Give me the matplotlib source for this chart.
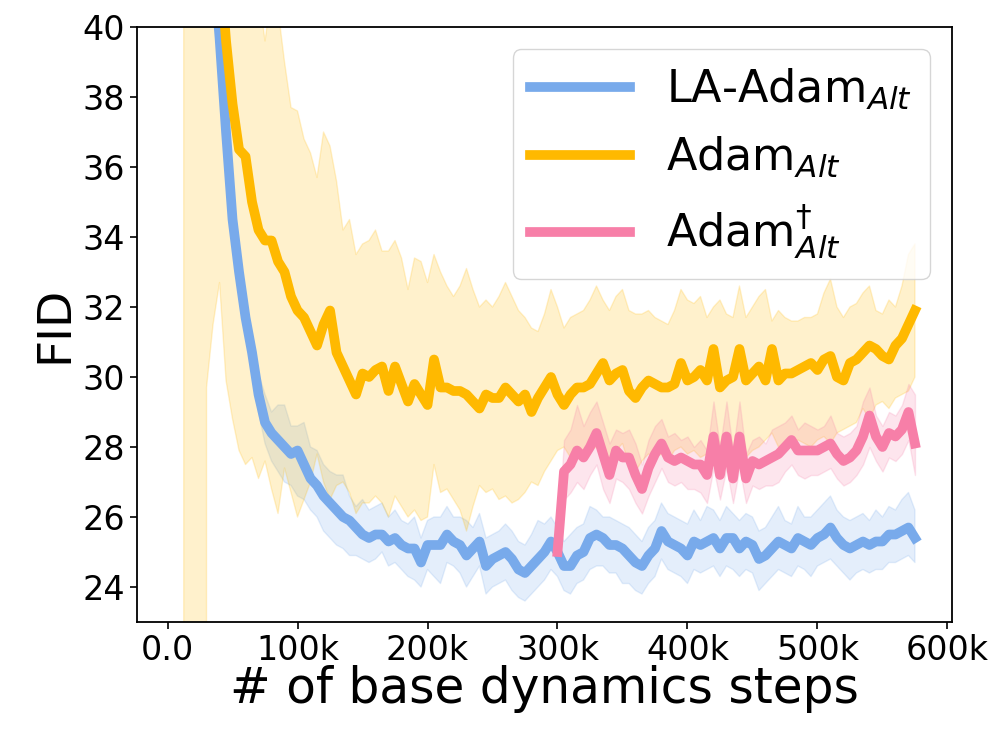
import numpy as np
import matplotlib
matplotlib.use("Agg")
import matplotlib.pyplot as plt
from matplotlib.ticker import FuncFormatter

# --- Pasos de evaluación (en miles)
steps_k = np.arange(5, 580, 5)
steps_pink_k = np.arange(300, 580, 5)

# --- LA-Adam_Alt (media, banda)
la_mean = [150, 110, 85, 65, 53, 45, 42, 39.7, 37.0, 34.5,
           33.0, 31.7, 30.7, 29.5, 28.7, 28.4, 28.2, 28.0, 27.8, 27.9,
           27.5, 27.1, 26.9, 26.6, 26.4, 26.2, 26.0, 25.9, 25.7, 25.5,
           25.4, 25.5, 25.5, 25.3, 25.4, 25.2, 25.1, 25.1, 24.7, 25.2,
           25.2, 25.2, 25.5, 25.3, 25.2, 24.9, 25.1, 25.3, 24.6, 24.8,
           24.9, 25.0, 24.8, 24.5, 24.4, 24.6, 24.8, 25.0, 25.3, 25.0,
           24.6, 24.6, 24.9, 25.0, 25.4, 25.5, 25.4, 25.2, 25.2, 25.1,
           24.9, 24.7, 24.6, 24.9, 25.1, 25.6, 25.3, 25.2, 25.1, 24.9,
           25.3, 25.2, 25.3, 25.4, 25.1, 25.4, 25.4, 25.1, 25.3, 25.2,
           24.8, 24.9, 25.1, 25.3, 25.2, 25.1, 25.4, 25.3, 25.2, 25.4,
           25.5, 25.7, 25.4, 25.2, 25.1, 25.2, 25.3, 25.2, 25.3, 25.3,
           25.5, 25.5, 25.6, 25.7, 25.4]
la_hi = [152, 112, 87, 66, 54, 46, 42.5, 40.0, 37.3, 34.8,
         33.3, 32.0, 31.1, 30.1, 29.5, 29.0, 29.2, 29.2, 28.6, 28.6,
         28.7, 28.0, 27.9, 27.5, 27.3, 27.2, 27.2, 26.6, 26.3, 26.5,
         26.2, 26.3, 26.4, 26.0, 26.2, 25.9, 25.8, 26.0, 25.4, 25.9,
         26.0, 26.0, 26.3, 26.0, 26.0, 25.9, 25.7, 26.1, 25.4, 25.5,
         25.6, 25.8, 25.6, 25.3, 25.2, 25.5, 25.9, 25.8, 26.0, 25.7,
         25.3, 25.5, 25.7, 25.8, 26.3, 26.2, 26.0, 26.0, 25.9, 25.8,
         25.7, 25.5, 25.3, 25.7, 25.9, 26.4, 26.1, 26.0, 25.9, 25.8,
         26.2, 25.9, 26.3, 26.2, 25.9, 26.3, 26.1, 25.9, 26.1, 26.0,
         25.6, 25.7, 26.0, 26.3, 25.9, 25.8, 26.3, 26.0, 26.0, 26.2,
         26.4, 26.6, 26.2, 26.0, 25.9, 26.0, 26.1, 25.9, 26.2, 26.0,
         26.3, 26.2, 26.5, 26.7, 26.2]
la_lo = [148, 108, 83, 64, 52, 44, 41.5, 39.4, 36.7, 34.2,
         32.7, 31.4, 30.3, 29.0, 28.1, 27.6, 27.3, 27.0, 26.9, 26.6,
         26.5, 26.2, 26.0, 25.6, 25.4, 25.2, 25.1, 24.9, 24.9, 24.8,
         24.7, 24.8, 25.0, 24.6, 24.7, 24.5, 24.3, 24.2, 24.0, 24.5,
         24.3, 24.1, 24.7, 24.6, 24.4, 24.0, 24.3, 24.6, 23.8, 24.0,
         24.1, 24.2, 23.9, 23.7, 23.6, 23.8, 24.0, 24.2, 24.5, 24.3,
         23.9, 23.8, 24.1, 24.2, 24.5, 24.6, 24.6, 24.4, 24.4, 24.1,
         24.1, 23.9, 23.8, 24.1, 24.3, 24.8, 24.5, 24.4, 24.3, 24.1,
         24.5, 24.4, 24.5, 24.6, 24.3, 24.6, 24.5, 24.3, 24.5, 24.4,
         23.9, 24.1, 24.3, 24.5, 24.4, 24.3, 24.6, 24.5, 24.3, 24.6,
         24.7, 24.8, 24.6, 24.4, 24.2, 24.4, 24.5, 24.4, 24.5, 24.5,
         24.7, 24.7, 24.8, 24.9, 24.7]

# --- Adam_Alt (media, banda)
adam_mean = [130, 100, 80, 66, 56, 49, 45, 42, 39.6, 37.8,
             36.5, 36.3, 35.0, 34.2, 33.9, 33.9, 33.3, 33.0, 32.3, 31.9,
             31.7, 31.3, 30.9, 31.5, 31.9, 30.7, 30.3, 29.9, 29.5, 30.1,
             30.0, 30.2, 30.3, 29.6, 30.3, 29.8, 29.3, 29.8, 29.5, 29.2,
             30.5, 29.7, 29.7, 29.6, 29.6, 29.5, 29.3, 29.1, 29.5, 29.4,
             29.4, 29.7, 29.5, 29.3, 29.5, 29.0, 29.4, 29.7, 30.0, 29.5,
             29.2, 29.5, 29.7, 29.7, 29.8, 30.1, 30.4, 29.9, 30.1, 30.2,
             29.6, 29.4, 29.7, 29.9, 29.8, 29.7, 29.7, 29.8, 30.4, 29.9,
             30.0, 30.2, 29.9, 30.8, 29.7, 29.9, 30.0, 30.8, 29.9, 30.1,
             30.3, 29.9, 30.8, 29.9, 30.1, 30.1, 30.2, 30.3, 30.4, 30.2,
             30.5, 30.6, 30.0, 29.9, 30.4, 30.5, 30.7, 30.9, 30.8, 30.6,
             30.5, 30.9, 31.1, 31.5, 31.9]
adam_hi = [200, 200, 200, 200, 200, 150, 100, 80, 60, 50,
           45, 43, 42, 41, 39.6, 41, 40.5, 39.0, 37.7, 37.6,
           36.8, 36.4, 35.7, 37.0, 36.6, 35.6, 34.2, 34.5, 33.5, 33.8,
           33.9, 34.2, 33.6, 33.6, 33.9, 33.4, 32.5, 33.4, 33.3, 32.7,
           33.5, 33.0, 32.6, 32.3, 32.6, 33.1, 32.5, 32.0, 32.2, 32.0,
           32.3, 32.7, 32.3, 31.9, 31.7, 31.4, 31.3, 31.8, 32.5, 32.0,
           31.4, 31.7, 31.8, 31.9, 32.2, 32.6, 32.2, 31.9, 32.3, 32.5,
           31.9, 31.8, 31.8, 31.9, 31.7, 31.6, 31.5, 31.9, 32.5, 32.2,
           32.1, 32.3, 31.7, 32.0, 32.2, 31.8, 31.7, 32.6, 31.7, 32.0,
           32.3, 32.5, 31.6, 31.9, 31.7, 31.6, 31.6, 31.7, 31.7, 31.8,
           32.4, 32.8, 32.0, 31.7, 32.0, 32.1, 32.4, 32.6, 31.9, 31.8,
           32.2, 32.0, 32.6, 33.5, 33.8]
adam_lo = [150, 1500, -1500, -3000, -3000, 29.7, 31.5, 32.7, 29.9, 28.8,
           27.9, 27.5, 27.7, 27.1, 27.6, 26.8, 26.1, 27.4, 26.7, 26.0,
           26.5, 27.0, 27.8, 27.0, 26.5, 26.9, 27.0, 26.7, 26.1, 26.4,
           26.4, 26.6, 26.4, 26.0, 26.6, 26.3, 26.0, 26.2, 25.9, 26.0,
           27.5, 26.7, 26.8, 26.5, 26.2, 25.6, 26.3, 26.9, 26.7, 26.8,
           26.5, 26.6, 26.4, 26.5, 26.7, 27.0, 26.9, 27.3, 27.6, 27.9,
           28.0, 27.7, 28.0, 27.8, 27.9, 28.0, 27.8, 27.6, 27.9, 28.1,
           27.5, 27.3, 27.6, 27.8, 27.7, 27.8, 27.6, 27.9, 28.0, 27.8,
           27.9, 27.7, 27.8, 28.0, 27.7, 27.9, 27.8, 28.0, 27.7, 27.9,
           28.0, 28.2, 28.4, 28.0, 28.1, 28.0, 28.2, 28.1, 28.0, 28.2,
           28.3, 28.1, 28.4, 28.5, 28.6, 28.7, 29.1, 28.8, 29.2, 29.3,
           29.1, 29.4, 29.5, 29.6, 30.0]

# --- Adam^dagger_Alt (desde 300k)
dag_mean = [25.0, 27.3, 27.5, 27.9, 27.7, 28.0, 28.4, 27.8, 27.2, 27.9,
            27.7, 27.7, 27.2, 26.8, 27.4, 27.8, 28.1, 27.7, 27.6, 27.7,
            27.6, 27.5, 27.5, 27.2, 28.3, 27.2, 28.3, 27.1, 28.3, 27.1,
            27.6, 27.5, 27.6, 27.7, 27.8, 28.0, 28.2, 27.9, 27.9, 27.9,
            27.9, 28.0, 28.1, 27.8, 27.6, 27.7, 27.9, 28.3, 28.9, 28.3,
            28.0, 28.4, 28.3, 28.5, 29.0, 28.1]
dag_hi = [25.3, 28.2, 28.5, 29.2, 28.6, 29.0, 29.3, 28.7, 28.1, 28.5,
          28.4, 28.5, 28.1, 27.5, 28.2, 28.6, 28.8, 28.3, 28.4, 28.2,
          28.3, 28.0, 28.2, 27.9, 29.3, 28.0, 29.3, 27.9, 29.3, 27.8,
          28.2, 28.3, 28.1, 28.5, 28.6, 28.7, 28.9, 28.5, 28.7, 28.6,
          28.5, 28.6, 28.9, 28.4, 28.3, 28.4, 28.6, 29.3, 29.7, 28.9,
          28.6, 29.0, 28.9, 29.2, 29.8, 29.5]
dag_lo = [24.7, 26.5, 26.7, 27.0, 26.8, 27.2, 27.5, 26.8, 26.4, 27.1,
          27.0, 26.8, 26.4, 26.1, 26.6, 27.0, 27.4, 27.0, 26.9, 27.0,
          26.8, 26.8, 26.7, 26.4, 27.4, 26.5, 27.4, 26.4, 27.4, 26.4,
          26.9, 26.8, 26.9, 26.9, 27.0, 27.3, 27.5, 27.2, 27.1, 27.2,
          27.2, 27.3, 27.4, 27.1, 26.9, 27.0, 27.2, 27.5, 28.0, 27.6,
          27.3, 27.7, 27.6, 27.8, 28.2, 27.2]

c_blue = "#78aaeb"
c_yellow = "#ffb900"
c_pink = "#f77fa8"

x = steps_k * 1000
x_p = steps_pink_k * 1000

fig = plt.figure(figsize=(10.02, 7.34), dpi=100)
ax = fig.add_axes([137 / 1002, 112 / 734, 815 / 1002, 595 / 734])

ax.plot(x, la_mean, color=c_blue, lw=7, label=r"LA-Adam$_{Alt}$")
ax.fill_between(x, la_lo, la_hi, color=c_blue, alpha=0.2)
ax.plot(x, adam_mean, color=c_yellow, lw=7, label=r"Adam$_{Alt}$")
ax.fill_between(x, adam_lo, adam_hi, color=c_yellow, alpha=0.2)
ax.plot(x_p, dag_mean, color=c_pink, lw=7, label=r"Adam$^{\dagger}_{Alt}$")
ax.fill_between(x_p, dag_lo, dag_hi, color=c_pink, alpha=0.2)

ax.set_ylim(23, 40)
ax.set_xlim(-23500, 603500)
ax.set_yticks([24, 26, 28, 30, 32, 34, 36, 38, 40])
ax.set_xticks(np.arange(0, 700000, 100000))
ax.xaxis.set_major_formatter(FuncFormatter(lambda v, p: "0.0" if v == 0 else f"{int(v / 1000)}k"))
ax.tick_params(labelsize=24, width=1.2, length=5)
for s in ax.spines.values():
    s.set_linewidth(1.3)

ax.set_xlabel("# of base dynamics steps", fontsize=35, labelpad=-1)
ax.set_ylabel("FID", fontsize=34, labelpad=4)
ax.legend(loc="upper right", fontsize=32, handlelength=2.25)

fig.savefig("out.png", dpi=100)
